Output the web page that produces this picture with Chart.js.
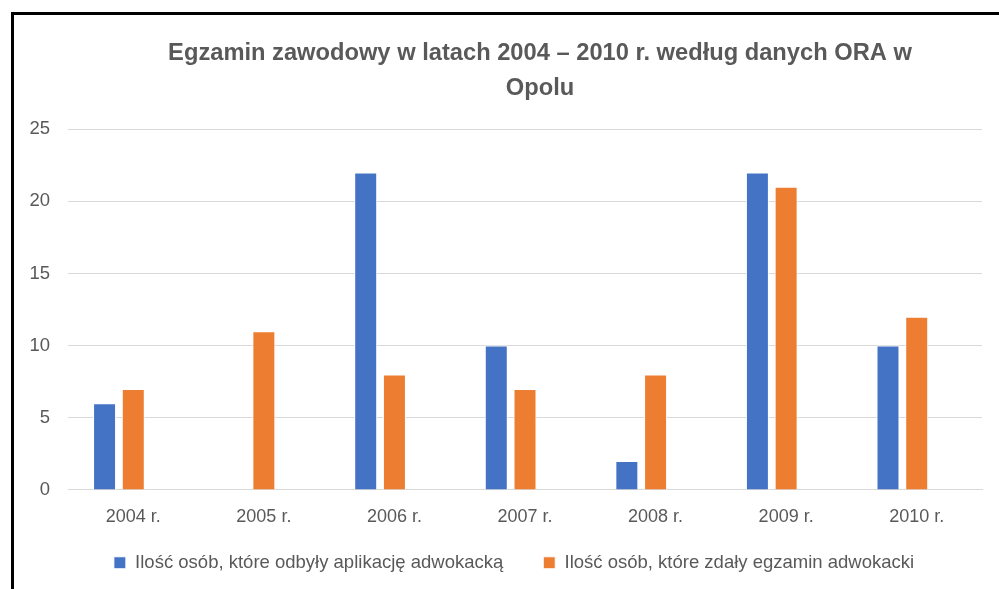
<!DOCTYPE html>
<html>
<head>
<meta charset="utf-8">
<script src="https://cdn.jsdelivr.net/npm/chart.js@4.4.1/dist/chart.umd.min.js"></script>
<style>
  html, body { margin: 0; padding: 0; background: #fff; }
  body { width: 999px; height: 589px; position: relative; overflow: hidden; }
  #frameTop { position: absolute; left: 11px; top: 12px; width: 988px; height: 3px; background: #000; }
  #frameLeft { position: absolute; left: 11px; top: 12px; width: 3px; height: 577px; background: #000; }
  #wrap { position: absolute; left: 14px; top: 15px; width: 985px; height: 574px; }
</style>
</head>
<body>
<div id="frameTop"></div>
<div id="frameLeft"></div>
<div id="wrap"><canvas id="chart"></canvas></div>
<script>
// Data
const years = ['2004 r.', '2005 r.', '2006 r.', '2007 r.', '2008 r.', '2009 r.', '2010 r.'];
const aplikacja = [6, null, 22, 10, 2, 22, 10];
const zdali = [7, 11, 8, 7, 8, 21, 12];
const pusta = [null, null, null, null, null, null, null]; // empty third series in the original
const yTicks = [0, 5, 10, 15, 20, 25];

const textColor = '#595959';
const fontFamily = "'Liberation Sans', Arial, sans-serif";

// the original is cropped on the right, so title and legend sit off-centre;
// legend also needs wide item gaps without the tall box that padding gives
const shiftBoxes = {
    id: 'shiftBoxes',
    afterInit(chart) {
        const lg = chart.legend;
        const fit = lg.fit.bind(lg);
        lg.fit = () => { fit(); lg.height -= 23; };
    },
    afterLayout(chart) {
        const t = chart.titleBlock;
        t.left += 42; t.right += 42;
        const lg = chart.legend;
        lg.top -= 30;
        lg.bottom = lg.top + 100;
        lg.left += 16; lg.right += 16;
    }
};

const ctx = document.getElementById('chart').getContext('2d');
const chart = new Chart(ctx, {
    type: 'bar',
    data: {
        labels: years,
        datasets: [{
            label: 'Ilość osób, które odbyły aplikację adwokacką',
            data: aplikacja,
            backgroundColor: '#4472C4',
            borderColor: '#ffffff',
            borderWidth: 1,
            barPercentage: 0.8,
            categoryPercentage: 0.66
        }, {
            label: 'Ilość osób, które zdały egzamin adwokacki',
            data: zdali,
            backgroundColor: '#ED7D31',
            borderColor: '#ffffff',
            borderWidth: 1,
            barPercentage: 0.8,
            categoryPercentage: 0.66
        }, {
            label: '',
            data: pusta,
            backgroundColor: '#A5A5A5',
            barPercentage: 0.8,
            categoryPercentage: 0.66
        }]
    },
    options: {
        responsive: true,
        maintainAspectRatio: false,
        animation: false,
        layout: { padding: { top: 20.5, right: 17, bottom: 0, left: 0 } },
        plugins: {
            title: {
                display: true,
                text: ['Egzamin zawodowy w latach 2004 – 2010 r. według danych ORA w', 'Opolu'],
                color: textColor,
                font: { family: fontFamily, size: 23.7, weight: 'bold', lineHeight: 1.48 },
                padding: { top: 0, bottom: 23.5 }
            },
            legend: {
                position: 'bottom',
                labels: {
                    color: textColor,
                    font: { family: fontFamily, size: 18.5 },
                    boxWidth: 12,
                    boxHeight: 12,
                    padding: 40,
                    filter: item => item.text !== ''
                }
            },
            tooltip: { enabled: false }
        },
        scales: {
            x: {
                grid: { display: false, drawTicks: false },
                border: { color: '#d9d9d9' },
                ticks: {
                    color: textColor,
                    font: { family: fontFamily, size: 18 },
                    padding: 16
                }
            },
            y: {
                min: 0,
                max: 25,
                afterFit: scale => { scale.width = 54; },
                afterBuildTicks: scale => { scale.ticks = yTicks.map(v => ({ value: v })); },
                grid: { color: '#d9d9d9', drawTicks: false },
                border: { display: false },
                ticks: {
                    color: textColor,
                    font: { family: fontFamily, size: 18.5 },
                    padding: 18
                }
            }
        }
    },
    plugins: [shiftBoxes]
});
</script>
</body>
</html>
